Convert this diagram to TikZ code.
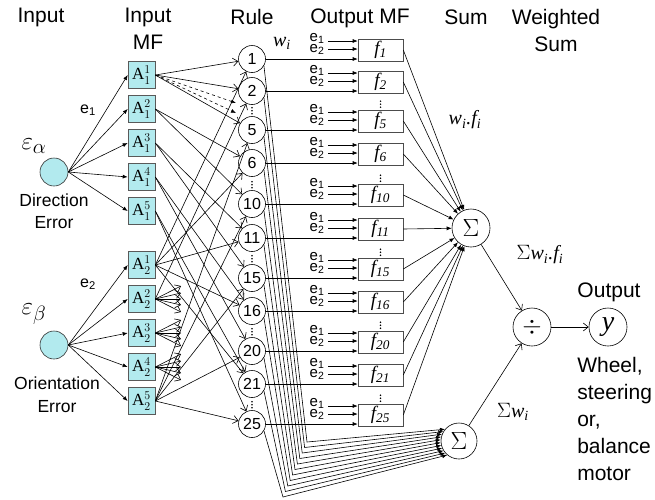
\documentclass[tikz,border=0pt]{standalone}
\usepackage[no-math]{fontspec}
\setmainfont{Liberation Sans}
\newfontfamily\tms{Liberation Serif}
\usetikzlibrary{arrows.meta}
\definecolor{mfcyan}{RGB}{178,234,238}
\newcommand{\fs}[1]{\fontsize{#1}{#1}\selectfont}

\begin{document}
\begin{tikzpicture}[x=1pt,y=-1pt,line width=0.6pt]
    \tikzstyle{hd} = [font=\fontsize{21}{27}\selectfont, align=center, inner sep=0pt]
    \tikzstyle{inp} = [draw=black!80, fill=mfcyan, circle, minimum size=28pt, inner sep=0pt]
    \tikzstyle{mf} = [draw=black!65, fill=mfcyan, minimum width=27pt, minimum height=27pt, inner sep=0pt, font=\fs{17}]
    \tikzstyle{rl} = [draw, circle, minimum size=27pt, inner sep=0pt, font=\fs{16}]
    \tikzstyle{fb} = [draw=black!70, minimum width=45pt, minimum height=22pt, inner sep=0pt, font=\fs{19}\tms\itshape]
    \tikzstyle{op} = [draw, circle, minimum size=38pt, inner sep=0pt]
    \tikzstyle{lbl} = [font=\fs{20}\tms\itshape, inner sep=0pt]
    \tikzstyle{ee} = [font=\fontsize{15}{11}\selectfont, align=center, inner sep=0pt]
    \tikzstyle{Open} = [draw, -{Straight Barb[length=5pt,width=8pt]}]
    \tikzstyle{Fill} = [draw, -{Latex[length=5pt,width=4pt]}]
    \useasboundingbox (0,0) rectangle (655,499);
    %% headings
    \node[hd] (hIn) at (41,17) {Input};
    \node[hd] (hMF) at (148,29) {Input\\MF};
    \node[hd] (hRu) at (252,17) {Rule};
    \node[hd] (hOu) at (360,18) {Output MF};
    \node[hd] (hSu) at (466,17) {Sum};
    \node[hd] (hWs) at (556,30) {Weighted\\Sum};
    %% inputs
    \node[inp] (ea) at (54,172) {};
    \node[inp] (eb) at (54,345) {};
    \node[font=\fs{30}] (lea) at (34,146) {$\varepsilon_\alpha$};
    \node[font=\fs{30}] (leb) at (34,314) {$\varepsilon_\beta$};
    \node[font=\fontsize{17.5}{22}\selectfont, align=center] (dea) at (54,211) {Direction\\Error};
    \node[font=\fontsize{17.5}{23}\selectfont, align=center] (deb) at (57,395) {Orientation\\Error};
    \node[font=\fs{16}] (le1) at (88,110) {e\textsubscript{1}};
    \node[font=\fs{16}] (le2) at (88,284) {e\textsubscript{2}};
    %% input MF
    \foreach \k in {1,...,5} {
      \node[mf] (m1-\k) at (141.5,41+34*\k) {{\tms A}$^{\k}_{1}$};
      \node[mf] (m2-\k) at (141.5,231+34*\k) {{\tms A}$^{\k}_{2}$};
      \draw[Fill] (ea.east) -- (m1-\k.west);
      \draw[Fill] (eb.east) -- (m2-\k.west);
    }
    %% sum, divide, output
    \node[op, font=\fs{30}] (su) at (471,228) {$\Sigma$};
    \node[op, minimum size=36pt, font=\fs{28}] (sl) at (459,441) {$\Sigma$};
    \node[op, font=\fs{24}] (dv) at (532,327) {$\div$};
    \node[op, font=\fs{28}\tms\itshape] (yo) at (608,327) {y};
    %% rules and output MF
    \foreach \r/\ry [count=\n from 0] in {1/59,2/91,5/130,6/163,10/204,11/238,15/278,16/311,20/351,21/384,25/424} {
      \node[rl] (r\r) at (252,\ry) {\r};
      \node[fb] (f\r) at (380.5,\ry-9) {f\textsubscript{\r}};
      \node[ee] (g\r) at (317,\ry-15) {e\textsubscript{1}\\e\textsubscript{2}};
      \coordinate (ta\r) at (328,\ry-18);
      \coordinate (tb\r) at (328,\ry-10);
      \draw[Fill] (ta\r) -- (ta\r -| f\r.west);
      \draw[Fill] (tb\r) -- (tb\r -| f\r.west);
      \draw[Fill] (r\r.east) -- (r\r.east -| f\r.west);
      \draw[Fill] (f\r.east) -- (su);
      \pgfmathtruncatemacro\ang{140+9*\n}
      \coordinate (c\r) at (307-2.4*\n,442+5.5*\n);
      \draw[Fill] (r\r.-30) -- (c\r) -- (sl.\ang);
    }
    % skipped rules
    \foreach \r in {5,10,15,20,25}
      \foreach \s in {2.5,5.5,8.5} {
        \fill ([yshift=\s pt]r\r.north) circle (0.8);
        \fill ([yshift=\s pt]f\r.north) circle (0.8);
      }
    %% input MF to rules
    \foreach \i/\r in {1/1,1/2,1/5,2/6,2/10,3/11,3/15,4/16,4/20,5/21,5/25}
      \draw[Open] (m1-\i.east) -- (r\r);
    \foreach \j/\r in {1/1,1/6,1/11,1/16,1/21,2/2,5/5,5/10,5/15,5/20,5/25}
      \draw[Open] (m2-\j.east) -- (r\r);
    \coordinate (dh1) at (236,103);
    \coordinate (dh2) at (236,113);
    \draw[Fill,dashed] (m1-1.east) -- (dh1);
    \draw[Fill,dashed] (m1-1.east) -- (dh2);
    \foreach \k in {2,3,4}
      \foreach \d [count=\c] in {-13,-6,0,6,13} {
        \coordinate (t\k-\c) at (181,231+34*\k+\d);
        \draw[Open] (m2-\k.east) -- (t\k-\c);
      }
    %% final stage
    \draw[Open] (su) -- (dv);
    \draw[Open] (sl) -- (dv);
    \draw[Open] (dv) -- (yo);
    \node[lbl] (lw) at (282,43) {w\textsubscript{i}};
    \node[lbl] (lwf) at (465,120) {w\textsubscript{i}.f\textsubscript{i}};
    \node[lbl] (lsw) at (540,255) {{\upshape$\Sigma$}w\textsubscript{i}.f\textsubscript{i}};
    \node[lbl] (lsl) at (513,412) {{\upshape$\Sigma$}w\textsubscript{i}};
    \node[hd] (hOut) at (609,292) {Output};
    \node[font=\fontsize{21}{27}\selectfont, align=left, anchor=north west, inner sep=0pt] (dsc) at (577,357) {Wheel,\\steering\\or,\\balance\\motor};
\end{tikzpicture}
\end{document}
